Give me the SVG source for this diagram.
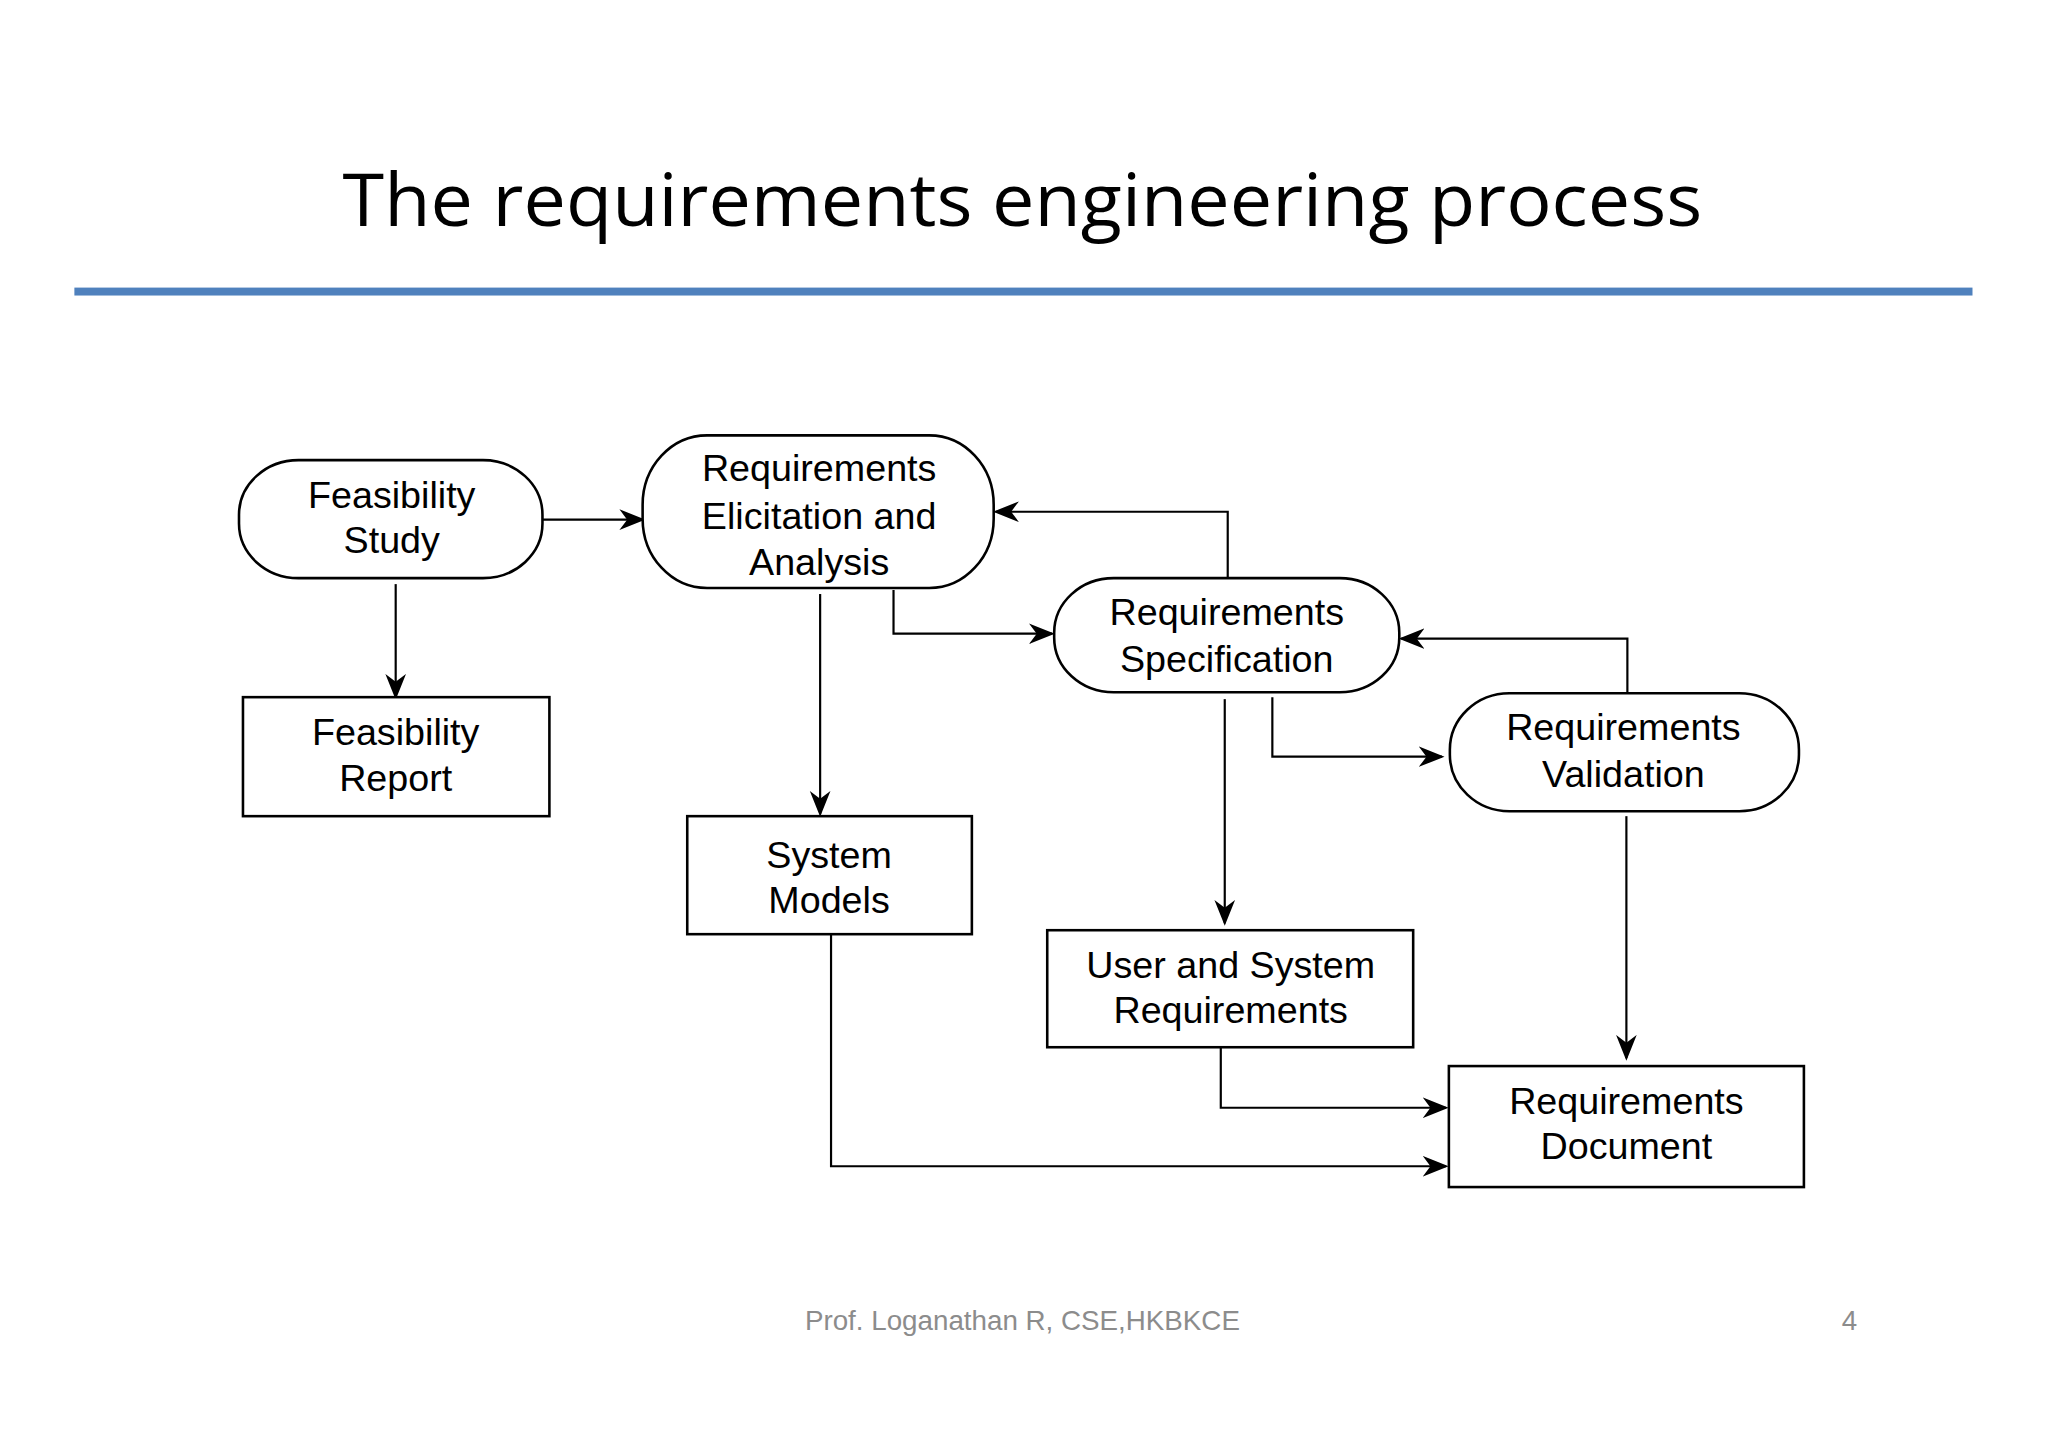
<svg xmlns="http://www.w3.org/2000/svg" width="2048" height="1447" viewBox="0 0 2048 1447">
<style>
.n{fill:#fff;stroke:#000;stroke-width:2.6}
.t{font-family:"Liberation Sans",Arial,sans-serif;font-size:38px;text-anchor:middle;fill:#000}
.c{fill:none;stroke:#000;stroke-width:2.2}
</style>
<defs>
<marker id="a" viewBox="0 0 20 20" refX="18" refY="10" markerWidth="26" markerHeight="26" markerUnits="userSpaceOnUse" orient="auto">
<path d="M0,2 L20,10 L0,18 L6,10 Z" fill="#000"/>
</marker>
</defs>
<rect width="2048" height="1447" fill="#fff"/>
<g transform="scale(0.9917)">
<text x="1031" y="228" font-family="Open Sans,Liberation Sans,sans-serif" font-size="74" text-anchor="middle" textLength="1371" lengthAdjust="spacingAndGlyphs">The requirements engineering process</text>
<rect x="75" y="290" width="1914" height="8" fill="#4f81bd"/>
<g id="connectors">
<path class="c" marker-end="url(#a)" d="M547,524 H648"/>
<path class="c" marker-end="url(#a)" d="M399,589 V703"/>
<path class="c" marker-end="url(#a)" d="M827,599 V821"/>
<path class="c" marker-end="url(#a)" d="M901,595 V639 H1061"/>
<path class="c" marker-end="url(#a)" d="M1238,582 V516 H1004"/>
<path class="c" marker-end="url(#a)" d="M1235,705 V931"/>
<path class="c" marker-end="url(#a)" d="M1283,703 V763 H1454"/>
<path class="c" marker-end="url(#a)" d="M1641,699 V644 H1413"/>
<path class="c" marker-end="url(#a)" d="M1640,823 V1067"/>
<path class="c" marker-end="url(#a)" d="M1231,1056 V1117 H1458"/>
<path class="c" marker-end="url(#a)" d="M838,938 V1176 H1458"/>
</g>
<g id="fs"><rect class="n" x="241" y="464" width="306" height="119" rx="60" ry="55"/>
<text class="t" x="395" y="512">Feasibility</text><text class="t" x="395" y="558">Study</text></g>
<g id="rea"><rect class="n" x="648" y="439" width="354" height="154" rx="65" ry="70"/>
<text class="t" x="826" y="485">Requirements</text><text class="t" x="826" y="533">Elicitation and</text><text class="t" x="826" y="580">Analysis</text></g>
<g id="rs"><rect class="n" x="1063" y="583" width="348" height="115" rx="60" ry="55"/>
<text class="t" x="1237" y="630">Requirements</text><text class="t" x="1237" y="678">Specification</text></g>
<g id="rv"><rect class="n" x="1462" y="699" width="352" height="119" rx="60" ry="57"/>
<text class="t" x="1637" y="746">Requirements</text><text class="t" x="1637" y="794">Validation</text></g>
<g id="fr"><rect class="n" x="245" y="703" width="309" height="120"/>
<text class="t" x="399" y="751">Feasibility</text><text class="t" x="399" y="798">Report</text></g>
<g id="sm"><rect class="n" x="693" y="823" width="287" height="119"/>
<text class="t" x="836" y="875">System</text><text class="t" x="836" y="921">Models</text></g>
<g id="usr"><rect class="n" x="1056" y="938" width="369" height="118"/>
<text class="t" x="1241" y="986">User and System</text><text class="t" x="1241" y="1032">Requirements</text></g>
<g id="rd"><rect class="n" x="1461" y="1075" width="358" height="122"/>
<text class="t" x="1640" y="1123">Requirements</text><text class="t" x="1640" y="1169">Document</text></g>
<text x="1031" y="1341" font-family="Liberation Sans,Arial,sans-serif" font-size="28" fill="#8c8c8c" text-anchor="middle">Prof. Loganathan R, CSE,HKBKCE</text>
<text x="1865" y="1341" font-family="Liberation Sans,Arial,sans-serif" font-size="28" fill="#8c8c8c" text-anchor="middle">4</text>
</g>
</svg>
